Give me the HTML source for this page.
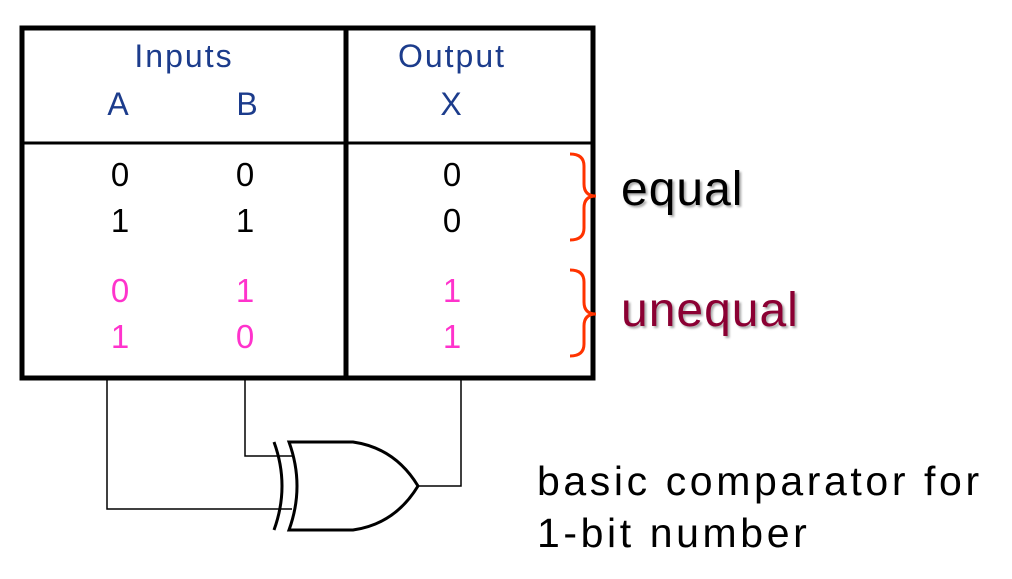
<!DOCTYPE html>
<html><head><style>
body{margin:0;width:1012px;height:579px;background:#fff;overflow:hidden;position:relative;font-family:"Liberation Sans",sans-serif}
.t{position:absolute;white-space:nowrap;transform:translateX(-50%)}
.b{color:#1c3c8c;font-size:32px;letter-spacing:2px}
.k{color:#000;font-size:33px}
.p{color:#ff33cc;font-size:33px}
</style></head><body>
<svg width="1012" height="579" style="position:absolute;left:0;top:0">
<rect x="22" y="28" width="571" height="350" fill="none" stroke="#000" stroke-width="5"/>
<line x1="346" y1="28" x2="346" y2="378" stroke="#000" stroke-width="5"/>
<line x1="22" y1="143" x2="593" y2="143" stroke="#000" stroke-width="3"/>
<g fill="none" stroke="#000" stroke-width="1.5">
<polyline points="107,378 107,509 292,509"/>
<polyline points="245,378 245,456 294,456"/>
<polyline points="461,378 461,486 418,486"/>
</g>
<g fill="none" stroke="#000" stroke-width="3">
<path d="M289,442 L353,442 Q395,448 418,486 Q395,524 353,530 L289,530 Q305,486 289,442 Z"/>
<path d="M274,442 Q290,486 274,530"/>
</g>
<g fill="none" stroke="#ff3300" stroke-width="3">
<path d="M570,154 Q584,154 584,166 L584,184 Q584,196 596,196 Q584,196 584,208 L584,228 Q584,240 570,240"/>
<path d="M570,270 Q584,270 584,282 L584,302 Q584,314 596,314 Q584,314 584,326 L584,344 Q584,356 570,356"/>
</g>
</svg>
<div class="t b" style="left:184px;top:38px">Inputs</div>
<div class="t b" style="left:119px;top:86px">A</div>
<div class="t b" style="left:248px;top:86px">B</div>
<div class="t b" style="left:452px;top:38px">Output</div>
<div class="t b" style="left:452px;top:86px">X</div>
<div class="t k" style="left:120px;top:156px">0</div>
<div class="t k" style="left:245px;top:156px">0</div>
<div class="t k" style="left:452px;top:156px">0</div>
<div class="t k" style="left:120px;top:202px">1</div>
<div class="t k" style="left:245px;top:202px">1</div>
<div class="t k" style="left:452px;top:202px">0</div>
<div class="t p" style="left:120px;top:272px">0</div>
<div class="t p" style="left:245px;top:272px">1</div>
<div class="t p" style="left:452px;top:272px">1</div>
<div class="t p" style="left:120px;top:318px">1</div>
<div class="t p" style="left:245px;top:318px">0</div>
<div class="t p" style="left:452px;top:318px">1</div>
<div style="position:absolute;left:621px;top:162px;font-size:48px;letter-spacing:1px;color:#000;text-shadow:2px 2px 2px #aaa">equal</div>
<div style="position:absolute;left:621px;top:283px;font-size:48px;letter-spacing:1px;color:#8b0033;text-shadow:2px 2px 2px #aaa">unequal</div>
<div style="position:absolute;left:537px;top:455px;font-size:41px;letter-spacing:3.6px;line-height:52px;color:#000">basic comparator for<br>1-bit number</div>
</body></html>
